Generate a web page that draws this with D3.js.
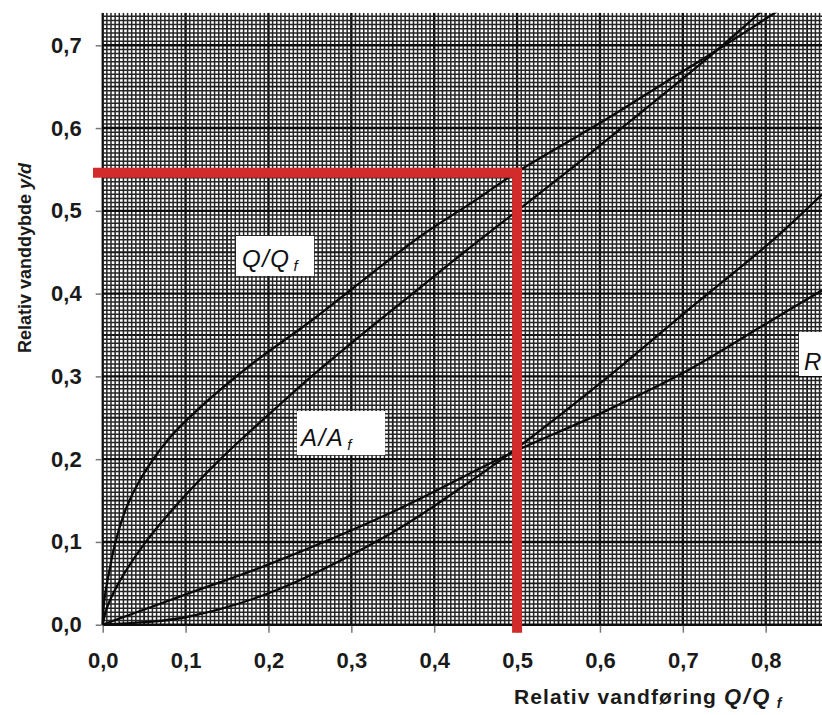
<!DOCTYPE html>
<html>
<head>
<meta charset="utf-8">
<script src="https://cdn.jsdelivr.net/npm/d3@7"></script>
<style>
  html, body { margin: 0; padding: 0; background: #fff; }
  svg { display: block; }
</style>
</head>
<body>
<div id="chart"></div>
<script>
// Curve points: [relative value, relative depth y/d]
const flowPts = [[0, 0], [0.002, 0.03], [0.008, 0.065], [0.015, 0.098], [0.028, 0.14], [0.045, 0.175],
  [0.08, 0.225], [0.117, 0.262], [0.18, 0.315], [0.25, 0.366], [0.3, 0.405], [0.383, 0.469],
  [0.45, 0.513], [0.5, 0.547], [0.576, 0.592], [0.6, 0.606], [0.68, 0.656], [0.741, 0.694], [0.82, 0.745]];
const areaPts = [[0, 0], [0.005, 0.02], [0.019, 0.05], [0.052, 0.1], [0.094, 0.15], [0.142, 0.2],
  [0.196, 0.25], [0.252, 0.3], [0.312, 0.35], [0.374, 0.4], [0.436, 0.45], [0.5, 0.5],
  [0.564, 0.55], [0.626, 0.6], [0.688, 0.65], [0.748, 0.7], [0.805, 0.75]];
const steepPts = [[0, 0], [0.05, 0.003], [0.1, 0.009], [0.2, 0.038], [0.347, 0.11], [0.42, 0.157],
  [0.49, 0.206], [0.6, 0.2915], [0.7, 0.375], [0.809, 0.465], [0.868, 0.52]];
const radiusPts = [[0, 0], [0.093, 0.034], [0.198, 0.072], [0.347, 0.135], [0.49, 0.206],
  [0.6, 0.255], [0.7, 0.304], [0.801, 0.364], [0.868, 0.404]];

const xTicks = [0, 0.1, 0.2, 0.3, 0.4, 0.5, 0.6, 0.7, 0.8];
const yTicks = [0, 0.1, 0.2, 0.3, 0.4, 0.5, 0.6, 0.7];

// the red reading lines
const markX = 0.5;
const markY = 0.546;

const width = 822;
const height = 715;

const x = d3.scaleLinear().domain([0, 0.8]).range([102.7, 765.7]);
const y = d3.scaleLinear().domain([0, 0.7]).range([624.7, 45.3]);

const xMax = x.invert(width);
const yMax = y.invert(12.7);
const fmt = d => d3.format(".1f")(d).replace(".", ",");
const font = "Liberation Sans, Arial, sans-serif";

const svg = d3.select("#chart")
  .append("svg")
  .attr("width", width)
  .attr("height", height)
  .style("background", "#fff");

svg.append("clipPath").attr("id", "plot")
  .append("rect")
  .attr("x", x(0) - 1.5)
  .attr("y", y(yMax))
  .attr("width", width - x(0) + 1.5)
  .attr("height", y(0) - y(yMax) + 1.5);

// graph paper grid
const grid = svg.append("g").attr("clip-path", "url(#plot)");
const step = 0.005;
const nx = Math.floor(xMax / step);
const ny = Math.floor(yMax / step);

function gridStyle(i) {
  if (i % 20 === 0) return { w: 2.4, c: "#0d0d0d" };
  if (i % 10 === 0) return { w: 1.8, c: "#1a1a1a" };
  return { w: 1.5, c: "#262626" };
}

for (let i = 0; i <= nx; i++) {
  const s = gridStyle(i);
  grid.append("line")
    .attr("x1", x(i * step)).attr("x2", x(i * step))
    .attr("y1", y(0)).attr("y2", y(yMax))
    .attr("stroke", s.c).attr("stroke-width", s.w);
}
for (let i = 0; i <= ny; i++) {
  const s = gridStyle(i);
  grid.append("line")
    .attr("x1", x(0)).attr("x2", width)
    .attr("y1", y(i * step)).attr("y2", y(i * step))
    .attr("stroke", s.c).attr("stroke-width", s.w);
}

// curves
const line = d3.line()
  .x(d => x(d[0]))
  .y(d => y(d[1]))
  .curve(d3.curveCatmullRom.alpha(0.5));

const curves = svg.append("g").attr("clip-path", "url(#plot)");
[flowPts, areaPts, steepPts, radiusPts].forEach(pts => {
  curves.append("path")
    .attr("d", line(pts))
    .attr("fill", "none")
    .attr("stroke", "#0a0a0a")
    .attr("stroke-width", 2.3);
});

// curve labels on white patches
function label(bx, by, bw, bh, tx, ty, main, sub) {
  const g = svg.append("g");
  g.append("rect")
    .attr("x", bx).attr("y", by).attr("width", bw).attr("height", bh)
    .attr("fill", "#fff");
  const t = g.append("text")
    .attr("x", tx).attr("y", ty)
    .attr("font-family", font)
    .attr("font-style", "italic")
    .attr("font-size", 24)
    .attr("letter-spacing", 1.5)
    .attr("fill", "#111")
    .text(main);
  if (sub) {
    t.append("tspan")
      .attr("dx", 3).attr("dy", 4)
      .attr("font-size", 15)
      .text(sub);
  }
}
label(236, 236, 78, 40, 242, 267, "Q/Q", "f");
label(297, 411, 88, 44, 301, 446, "A/A", "f");
label(799, 332, 30, 44, 804, 370, "R", null);

// axes
const xAxis = svg.append("g")
  .attr("transform", `translate(0,${y(0) + 1})`)
  .call(d3.axisBottom(x).tickValues(xTicks).tickFormat(fmt).tickSize(7).tickPadding(20));
const yAxis = svg.append("g")
  .attr("transform", `translate(${x(0) - 1},0)`)
  .call(d3.axisLeft(y).tickValues(yTicks).tickFormat(fmt).tickSize(6).tickPadding(14));

[xAxis, yAxis].forEach(a => {
  a.select(".domain").remove();
  a.selectAll(".tick line").attr("stroke", "#777").attr("stroke-width", 1.5);
  a.selectAll(".tick text")
    .attr("font-family", font)
    .attr("font-weight", "bold")
    .attr("font-size", 22)
    .attr("fill", "#1a1a1a");
});

// axis titles
const xt = svg.append("text")
  .attr("x", 514).attr("y", 704)
  .attr("font-family", font)
  .attr("font-weight", "bold")
  .attr("font-size", 21)
  .attr("letter-spacing", 1.1)
  .attr("fill", "#1a1a1a")
  .text("Relativ vandføring ");
xt.append("tspan").attr("font-style", "italic").attr("font-size", 22).attr("letter-spacing", 2.5).text("Q/Q");
xt.append("tspan").attr("font-style", "italic").attr("font-size", 14).attr("dx", 5).attr("dy", 4).text("f");

const yt = svg.append("text")
  .attr("transform", "translate(31,258) rotate(-90)")
  .attr("text-anchor", "middle")
  .attr("font-family", font)
  .attr("font-weight", "bold")
  .attr("font-size", 18)
  .attr("fill", "#1a1a1a")
  .text("Relativ vanddybde ");
yt.append("tspan").attr("font-style", "italic").text("y/d");

// red reading lines
const red = svg.append("g")
  .attr("stroke", "#d12b2b")
  .attr("stroke-width", 10)
  .attr("fill", "none");
red.append("line")
  .attr("x1", 93).attr("x2", x(markX) + 5)
  .attr("y1", y(markY)).attr("y2", y(markY));
red.append("line")
  .attr("x1", x(markX)).attr("x2", x(markX))
  .attr("y1", y(markY) - 5).attr("y2", y(0) + 8);
</script>
</body>
</html>
